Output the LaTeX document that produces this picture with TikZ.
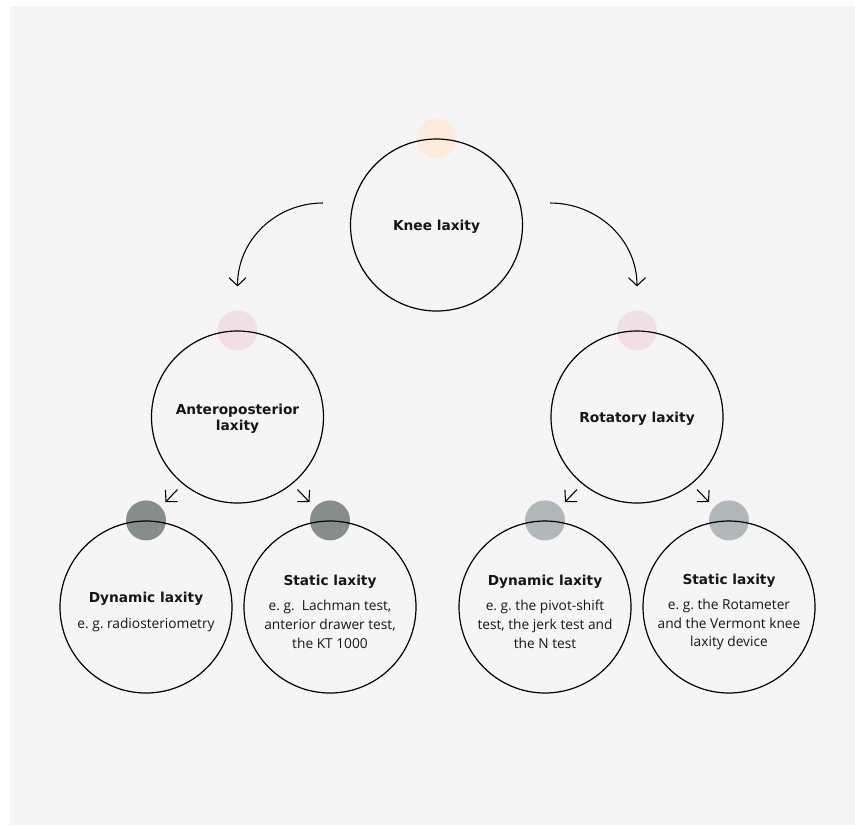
\documentclass[tikz,border=0pt]{standalone}
\usepackage{fontspec}
\setmainfont{Open Sans}
\newfontfamily\headfont{DejaVu Sans}
\usetikzlibrary{arrows.meta,calc,backgrounds}

\definecolor{panelgray}{HTML}{F5F5F5}
\definecolor{dotpeach}{HTML}{FDEBDC}
\definecolor{dotpink}{HTML}{F2DFE6}
\definecolor{dotdark}{HTML}{878D8D}
\definecolor{dotlight}{HTML}{B2B8BA}
\definecolor{inkgray}{HTML}{161616}

\tikzset{
  laxcircle/.style={circle, draw=black, line width=0.9pt, minimum size=129pt, inner sep=0pt,
    align=center, text=inkgray, font=\fontsize{10.3}{14}\selectfont\frenchspacing},
  topdot/.style={circle, minimum size=30pt, inner sep=0pt, fill=#1},
  laxarrow/.style={line width=0.8pt, -{Straight Barb[length=6pt,width=12.75pt]}},
}
\newcommand{\laxtitle}[1]{{\headfont\bfseries #1}}
\newcommand{\laxhead}[1]{\rule{0pt}{15pt}{\headfont\bfseries #1}}

\begin{document}
\begin{tikzpicture}[x=0.75pt,y=0.75pt,yscale=-1,xscale=1]
\useasboundingbox (0,0) rectangle (855,825);

% circles
\node[laxcircle] (knee) at (436.5,225) {\rule{0pt}{11pt}\laxtitle{Knee laxity}};
\node[laxcircle] (ap) at (237.5,417) {\rule{0pt}{11pt}\laxtitle{Anteroposterior}\\[-2pt]\laxtitle{laxity}};
\node[laxcircle] (rot) at (637,417) {\rule{0pt}{11pt}\laxtitle{Rotatory laxity}};

\node[laxcircle] (apdyn) at (146,607) {\laxhead{Dynamic laxity}\\[5pt]e.~g. radiosteriometry};
\node[laxcircle] (apstat) at (330,607) {\laxhead{Static laxity}\\[5pt]e.~g.\ \ Lachman test,\\anterior drawer test,\\the KT 1000};
\node[laxcircle] (rotdyn) at (545,607) {\laxhead{Dynamic laxity}\\[5pt]e.~g. the pivot-shift\\test, the jerk test and\\the N test};
\node[laxcircle] (rotstat) at (729,607) {\laxhead{Static laxity}\\[5pt]e.~g. the Rotameter\\and the Vermont knee\\laxity device};

% panel and coloured dots behind the outlines
\begin{pgfonlayer}{background}
\fill[white] (0,0) rectangle (855,825);
\fill[panelgray] (10,6) rectangle (855,825);
\node[topdot=dotpeach] (kneedot) at (knee.north) {};
\node[topdot=dotpink] (apdot) at (ap.north) {};
\node[topdot=dotpink] (rotdot) at (rot.north) {};
\node[topdot=dotdark] (apdyndot) at (apdyn.north) {};
\node[topdot=dotdark] (apstatdot) at (apstat.north) {};
\node[topdot=dotlight] (rotdyndot) at (rotdyn.north) {};
\node[topdot=dotlight] (rotstatdot) at (rotstat.north) {};
\end{pgfonlayer}

% big arrows
\coordinate (kneeleft) at ($(knee.west)+(-27,-22)$);
\coordinate (kneeright) at ($(knee.east)+(27,-22)$);
\coordinate (apin) at ($(ap.north)+(0,-44)$);
\coordinate (rotin) at ($(rot.north)+(0,-44)$);
\draw[laxarrow] (kneeleft) to[out=180,in=-90] (apin);
\draw[laxarrow] (kneeright) to[out=0,in=-90] (rotin);

% small arrows
\draw[laxarrow] ($(ap)+(-60,72.5)$) -- ($(ap)+(-72,85)$);
\draw[laxarrow] ($(ap)+(60,72.5)$) -- ($(ap)+(72,85)$);
\draw[laxarrow] ($(rot)+(-60,72.5)$) -- ($(rot)+(-72,85)$);
\draw[laxarrow] ($(rot)+(60,72.5)$) -- ($(rot)+(72,85)$);

\end{tikzpicture}
\end{document}
